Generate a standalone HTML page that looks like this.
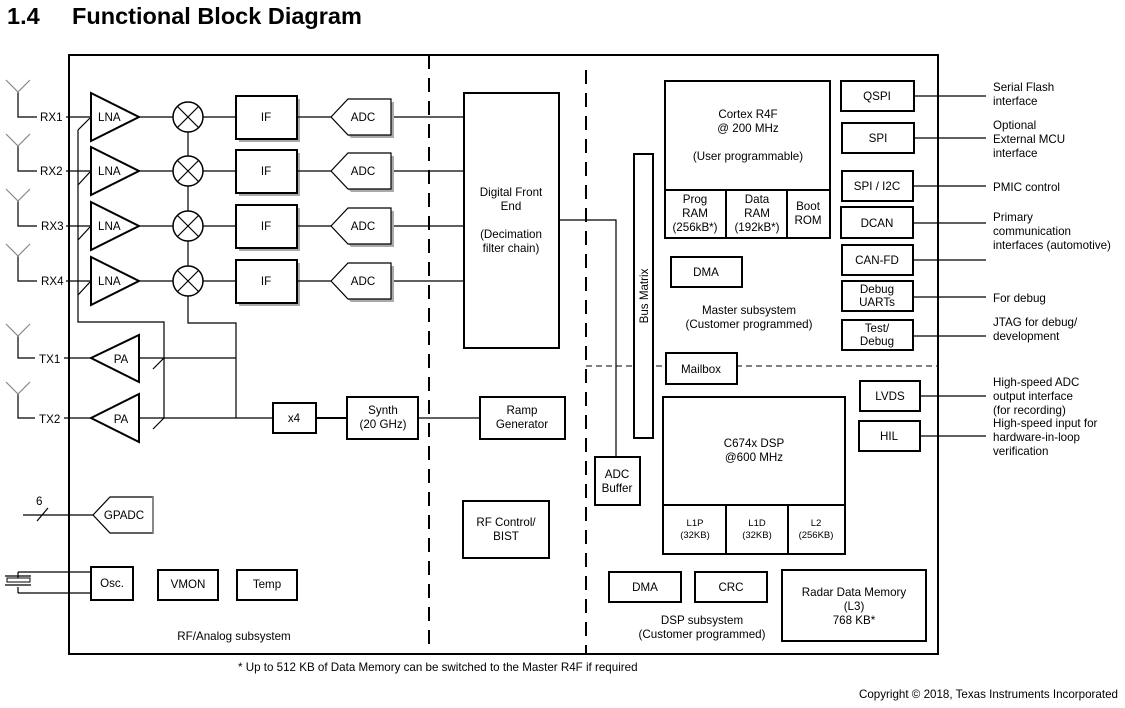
<!DOCTYPE html>
<html><head><meta charset="utf-8"><style>
body{margin:0;background:#fff;}
svg{display:block;font-family:"Liberation Sans",Arial,sans-serif;}
text{font-size:11.6px;fill:#000;}
.t{text-anchor:middle;}
.b{fill:#fff;stroke:#000;stroke-width:2;}
.l{stroke:#000;stroke-width:1.2;fill:none;}
.g{stroke:#888;stroke-width:1.2;fill:none;}
.s{font-size:9.5px;}
</style></head><body>
<svg width="1125" height="708" viewBox="0 0 1125 708" xmlns="http://www.w3.org/2000/svg">
<text x="7" y="24" style="font-size:23.5px;font-weight:bold">1.4</text>
<text x="72" y="24" style="font-size:23.5px;font-weight:bold">Functional Block Diagram</text>

<rect x="69" y="55" width="869" height="599" fill="none" stroke="#000" stroke-width="2"/>
<line x1="429" y1="55" x2="429" y2="654" stroke="#000" stroke-width="2" stroke-dasharray="14,9"/>
<line x1="586" y1="70" x2="586" y2="654" stroke="#000" stroke-width="2" stroke-dasharray="14,9"/>
<line x1="586" y1="366" x2="938" y2="366" stroke="#000" stroke-width="1" stroke-dasharray="6,4"/>

<g class="l">
<path d="M18,92 V117 H37 M66,117 H91"/>
<path d="M18,146 V171 H37 M66,171 H91"/>
<path d="M18,201 V226 H37 M66,226 H91"/>
<path d="M18,256 V281 H37 M66,281 H91"/>
<path d="M18,336 V358 H35 M64,358 H91"/>
<path d="M18,394 V418 H35 M64,418 H91"/>
</g>
<g class="g"><path d="M6,80 L18,92 L30,80"/><path d="M6,134 L18,146 L30,134"/><path d="M6,189 L18,201 L30,189"/><path d="M6,244 L18,256 L30,244"/><path d="M6,324 L18,336 L30,324"/><path d="M6,382 L18,394 L30,382"/></g>
<text x="40" y="121">RX1</text><text x="40" y="175">RX2</text><text x="41" y="230">RX3</text><text x="41" y="285">RX4</text>
<text x="39" y="363">TX1</text><text x="39" y="423">TX2</text>

<g class="l">
<path d="M78,130 L90,118 M78,185 L90,172 M78,240 L90,227 M78,295 L90,282"/>
<path d="M78,130 V322 H164 V418"/>
<path d="M153,369 L164,358 M153,429 L164,418"/>
<path d="M188,117 V281 M188,296 V323 H236 V418"/>
<path d="M139,358 H236 M139,418 H273"/>
</g>

<g id="rx">
<polygon points="91,93 139,117 91,141" class="b" stroke-width="1.5"/>
<text x="98" y="121">LNA</text>
<line x1="139" y1="117" x2="173" y2="117" class="l"/>
<circle cx="188" cy="117" r="15" fill="#fff" stroke="#000" stroke-width="1.5"/>
<path d="M177,106 L199,128 M199,106 L177,128" class="l"/>
<line x1="203" y1="117" x2="236" y2="117" class="l"/>
<rect x="239" y="99" width="61" height="43" fill="#aaa"/>
<rect x="236" y="96" width="61" height="43" class="b" stroke-width="2"/>
<text x="266" y="121" class="t">IF</text>
<line x1="297" y1="117" x2="331" y2="117" class="l"/>
<polygon points="334,120 351,102 394,102 394,138 351,138" fill="#aaa"/>
<polygon points="331,117 348,99 391,99 391,135 348,135" fill="#fff" stroke="#000" stroke-width="1.2"/>
<text x="363" y="121" class="t">ADC</text>
<line x1="394" y1="117" x2="464" y2="117" class="l"/>
</g>
<use href="#rx" y="54"/><use href="#rx" y="109"/><use href="#rx" y="164"/>

<polygon points="91,358 139,335 139,382" class="b" stroke-width="1.5"/><text x="121" y="363" class="t">PA</text>
<polygon points="91,418 139,394 139,442" class="b" stroke-width="1.5"/><text x="121" y="423" class="t">PA</text>

<rect x="273" y="403" width="43" height="30" class="b"/><text x="294" y="422" class="t">x4</text>
<line x1="316" y1="418" x2="347" y2="418" stroke="#000" stroke-width="2"/>
<rect x="347" y="397" width="71" height="42" class="b"/><text x="383" y="414" class="t">Synth</text><text x="383" y="428" class="t">(20 GHz)</text>
<line x1="418" y1="418" x2="480" y2="418" class="l"/>
<rect x="480" y="397" width="85" height="42" class="b"/><text x="522" y="414" class="t">Ramp</text><text x="522" y="428" class="t">Generator</text>

<rect x="464" y="93" width="95" height="255" class="b"/>
<text x="511" y="196" class="t">Digital Front</text><text x="511" y="210" class="t">End</text>
<text x="511" y="238" class="t">(Decimation</text><text x="511" y="252" class="t">filter chain)</text>
<path d="M559,220 H616 V458" class="l"/>
<rect x="595" y="457" width="45" height="48" class="b"/><text x="617" y="478" class="t">ADC</text><text x="617" y="492" class="t">Buffer</text>
<rect x="463" y="501" width="86" height="57" class="b"/><text x="506" y="526" class="t">RF Control/</text><text x="506" y="540" class="t">BIST</text>

<path d="M23,515 H93 M37,521 L48,508" class="l"/>
<text x="36" y="505">6</text>
<polygon points="93,515 110,497 153,497 153,533 110,533" fill="#fff" stroke="#000" stroke-width="1.2"/>
<line x1="153" y1="497" x2="153" y2="533" stroke="#888" stroke-width="2"/>
<text x="124" y="519" class="t">GPADC</text>
<path d="M18,572 H93 M18,593 H93 M18,572 V578 M18,593 V587" class="l"/>
<rect x="7" y="578" width="23" height="4" fill="#fff" stroke="#000" stroke-width="1"/>
<line x1="5" y1="585" x2="31" y2="585" class="l"/>
<line x1="5" y1="576" x2="31" y2="576" class="l"/>
<rect x="91" y="567" width="42" height="33" class="b"/><text x="112" y="587" class="t">Osc.</text>
<rect x="158" y="570" width="60" height="30" class="b"/><text x="188" y="588" class="t">VMON</text>
<rect x="237" y="570" width="60" height="30" class="b"/><text x="267" y="588" class="t">Temp</text>
<text x="234" y="640" class="t">RF/Analog subsystem</text>

<rect x="634" y="154" width="19" height="284" class="b"/>
<text transform="translate(648,296) rotate(-90)" class="t">Bus Matrix</text>
<rect x="665" y="81" width="165" height="109" class="b"/>
<text x="748" y="118" class="t">Cortex R4F</text><text x="748" y="132" class="t">@ 200 MHz</text><text x="748" y="160" class="t">(User programmable)</text>
<rect x="665" y="190" width="165" height="48" class="b"/>
<path d="M726,190 V238 M787,190 V238" stroke="#000" stroke-width="2"/>
<text x="695" y="203" class="t">Prog</text><text x="695" y="217" class="t">RAM</text><text x="695" y="231" class="t">(256kB*)</text>
<text x="757" y="203" class="t">Data</text><text x="757" y="217" class="t">RAM</text><text x="757" y="231" class="t">(192kB*)</text>
<text x="808" y="210" class="t">Boot</text><text x="808" y="224" class="t">ROM</text>
<rect x="671" y="257" width="71" height="30" class="b"/><text x="706" y="276" class="t">DMA</text>
<text x="749" y="314" class="t">Master subsystem</text><text x="749" y="328" class="t">(Customer programmed)</text>
<rect x="666" y="353" width="71" height="31" class="b"/><text x="701" y="373" class="t">Mailbox</text>

<rect x="663" y="397" width="182" height="157" class="b"/>
<text x="754" y="447" class="t">C674x DSP</text><text x="754" y="461" class="t">@600 MHz</text>
<path d="M663,505 H845 M726,505 V554 M788,505 V554" stroke="#000" stroke-width="2"/>
<text x="695" y="526" class="t s">L1P</text><text x="695" y="538" class="t s">(32KB)</text>
<text x="757" y="526" class="t s">L1D</text><text x="757" y="538" class="t s">(32KB)</text>
<text x="816" y="526" class="t s">L2</text><text x="816" y="538" class="t s">(256KB)</text>
<rect x="609" y="572" width="72" height="30" class="b"/><text x="645" y="591" class="t">DMA</text>
<rect x="695" y="572" width="72" height="30" class="b"/><text x="731" y="591" class="t">CRC</text>
<text x="702" y="624" class="t">DSP subsystem</text><text x="702" y="638" class="t">(Customer programmed)</text>
<rect x="782" y="570" width="144" height="71" class="b"/>
<text x="854" y="596" class="t">Radar Data Memory</text><text x="854" y="610" class="t">(L3)</text><text x="854" y="624" class="t">768 KB*</text>

<rect x="841" y="81" width="73" height="30" class="b"/><text x="877" y="100" class="t">QSPI</text>
<rect x="842" y="123" width="72" height="30" class="b"/><text x="878" y="142" class="t">SPI</text>
<rect x="842" y="171" width="71" height="30" class="b"/><text x="877" y="190" class="t">SPI / I2C</text>
<rect x="841" y="207" width="72" height="31" class="b"/><text x="877" y="227" class="t">DCAN</text>
<rect x="842" y="245" width="71" height="30" class="b"/><text x="877" y="264" class="t">CAN-FD</text>
<rect x="842" y="281" width="71" height="30" class="b"/><text x="877" y="293" class="t">Debug</text><text x="877" y="306" class="t">UARTs</text>
<rect x="842" y="320" width="71" height="30" class="b"/><text x="877" y="332" class="t">Test/</text><text x="877" y="345" class="t">Debug</text>
<rect x="860" y="381" width="60" height="30" class="b"/><text x="890" y="400" class="t">LVDS</text>
<rect x="859" y="421" width="61" height="30" class="b"/><text x="889" y="440" class="t">HIL</text>
<path d="M914,96 H986 M914,138 H986 M913,186 H986 M913,223 H986 M913,260 H986 M913,297 H986 M913,336 H986 M920,396 H986 M920,436 H986" class="l"/>
<g>
<text x="993" y="91">Serial Flash</text><text x="993" y="105">interface</text>
<text x="993" y="129">Optional</text><text x="993" y="143">External MCU</text><text x="993" y="157">interface</text>
<text x="993" y="191">PMIC control</text>
<text x="993" y="221">Primary</text><text x="993" y="235">communication</text><text x="993" y="249">interfaces (automotive)</text>
<text x="993" y="302">For debug</text>
<text x="993" y="326">JTAG for debug/</text><text x="993" y="340">development</text>
<text x="993" y="386">High-speed ADC</text><text x="993" y="400">output interface</text><text x="993" y="414">(for recording)</text>
<text x="993" y="427">High-speed input for</text><text x="993" y="441">hardware-in-loop</text><text x="993" y="455">verification</text>
</g>

<text x="238" y="671">* Up to 512 KB of Data Memory can be switched to the Master R4F if required</text>
<text x="1118" y="698" style="text-anchor:end">Copyright © 2018, Texas Instruments Incorporated</text>
</svg>
</body></html>
